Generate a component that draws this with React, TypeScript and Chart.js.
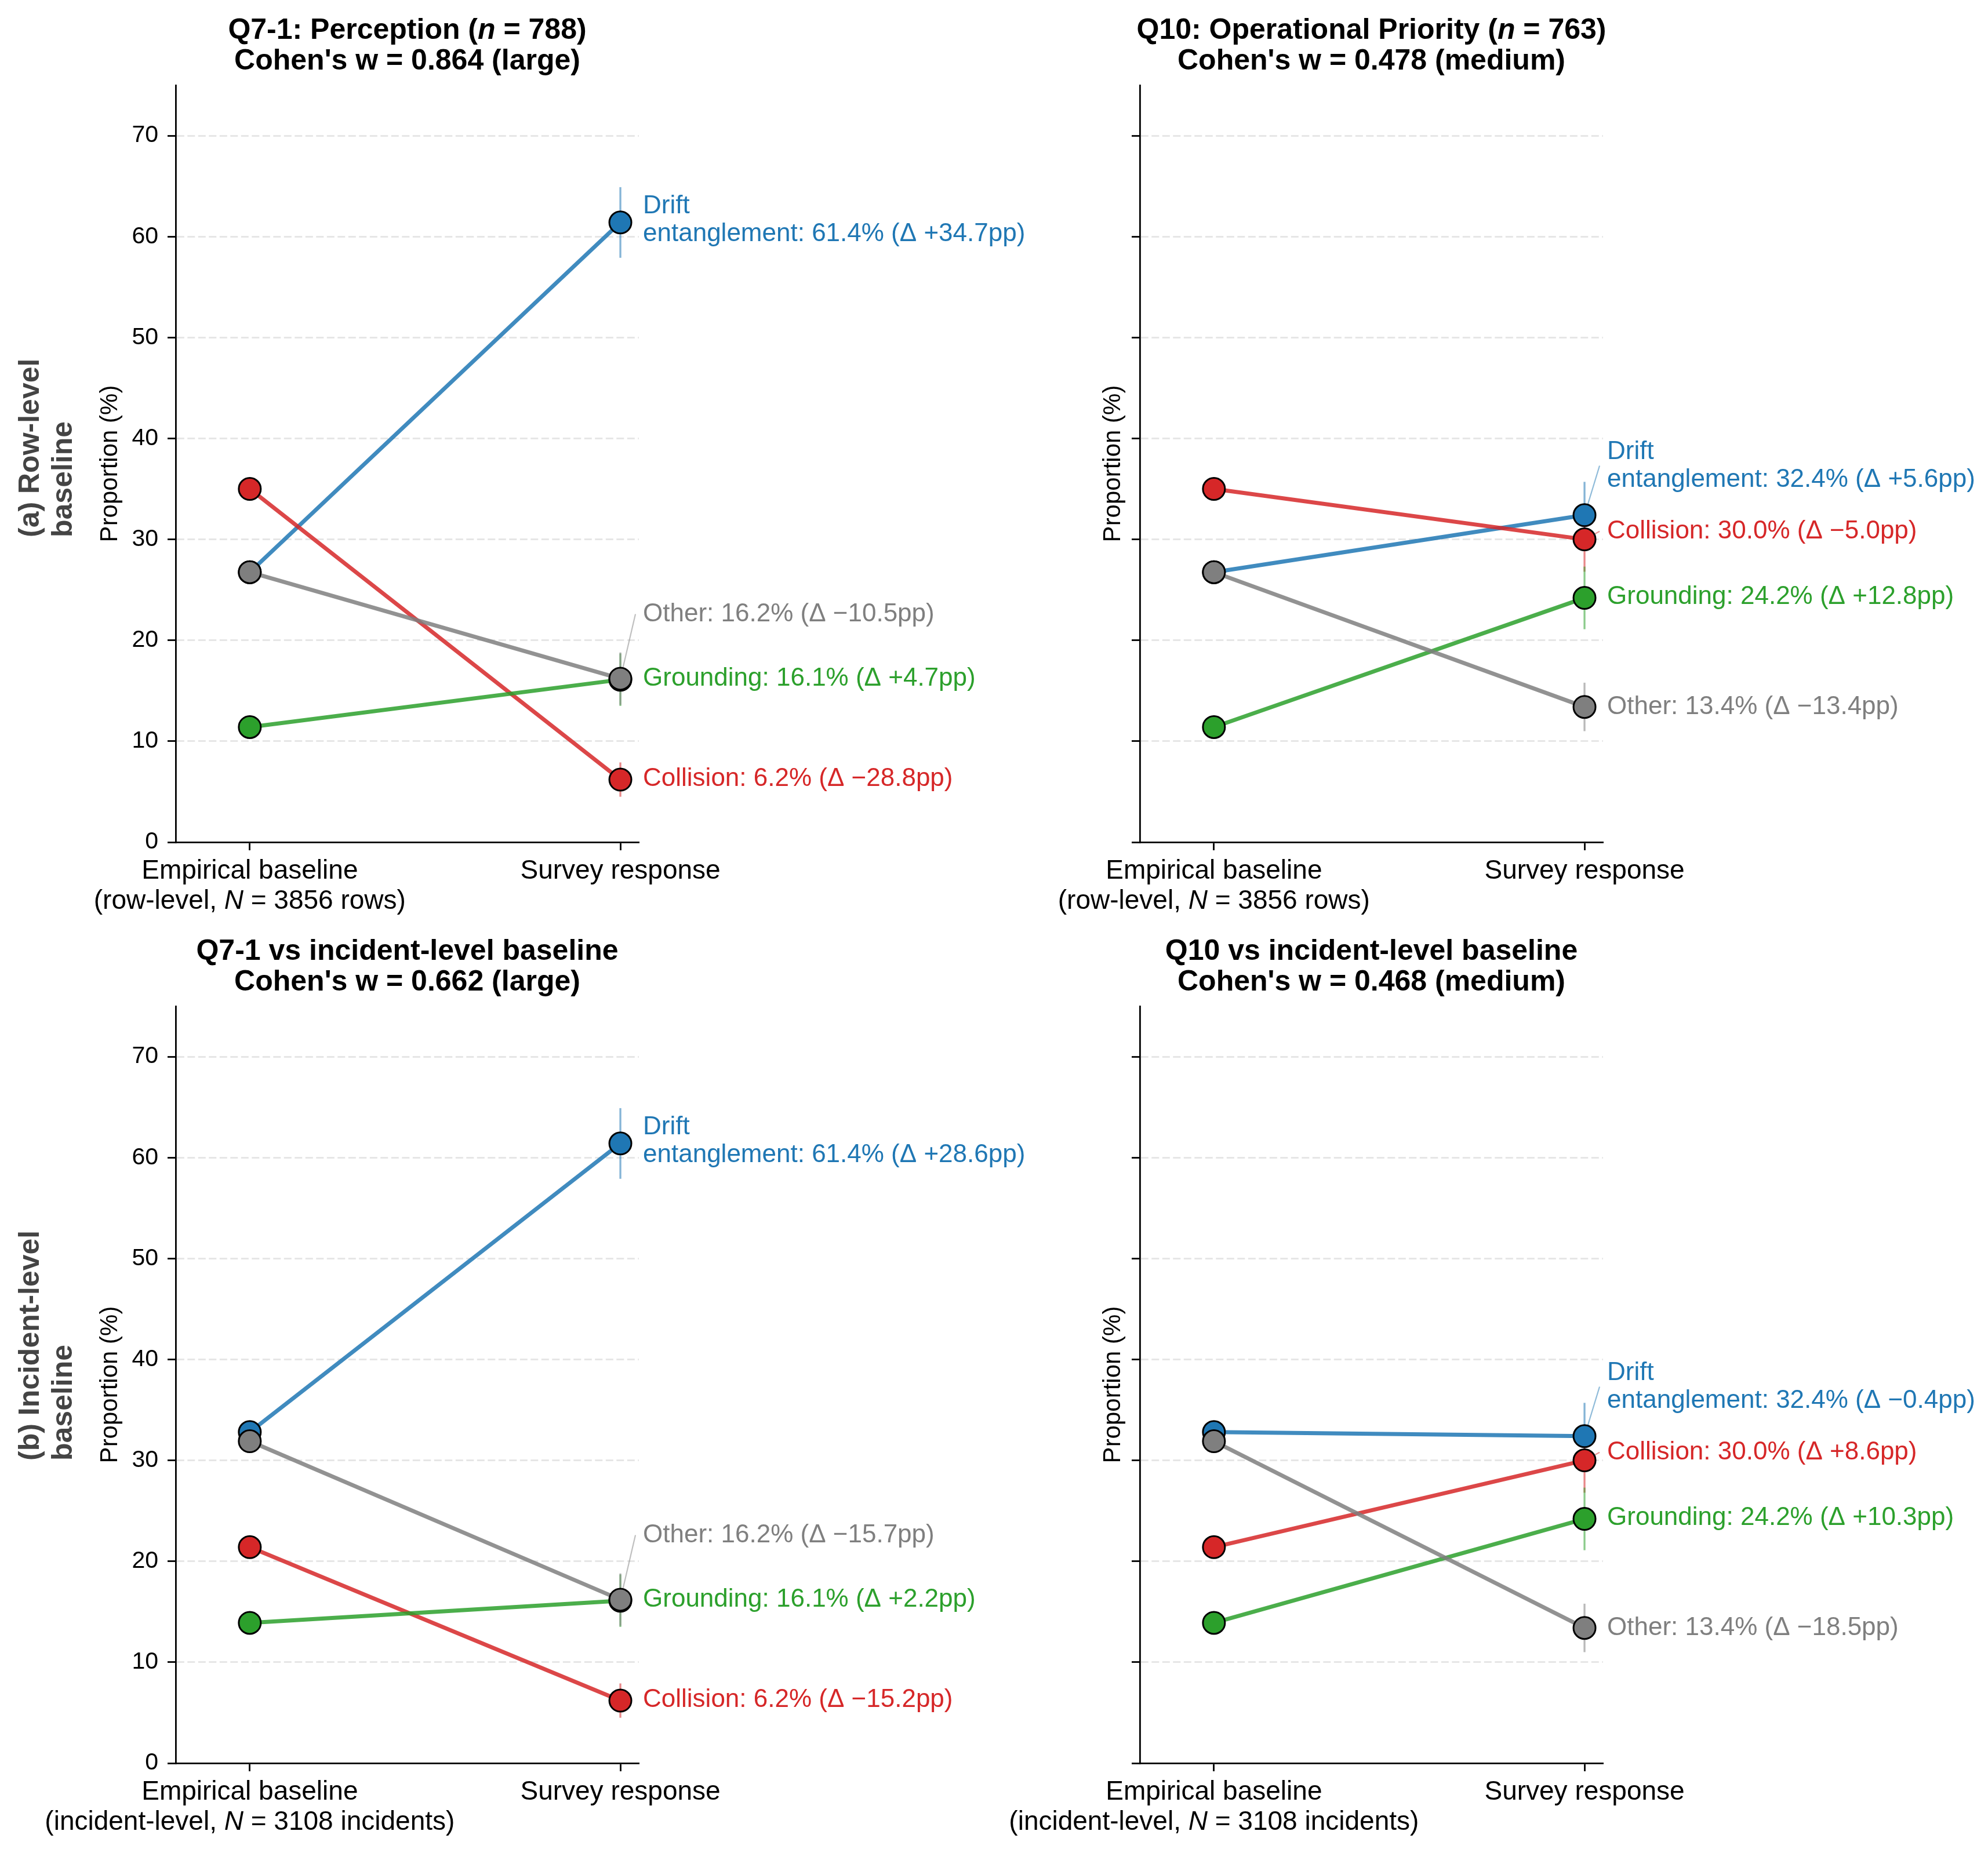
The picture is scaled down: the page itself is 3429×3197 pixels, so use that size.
import { useEffect, useRef } from "react";
import { Chart, registerables } from "chart.js";

Chart.register(...registerables);

const FONT = "'Liberation Sans', Arial, Helvetica, sans-serif";
const W = 3429;
const H = 3197;
const Y_AXIS_W = 150;

// categories (drawing order: first = bottom)
const categories = ["Drift\nentanglement", "Collision", "Grounding", "Other"];
const categoryColors = ["#1f77b4", "#d62728", "#2ca02c", "#7f7f7f"];
const categoryRgb = ["31,119,180", "214,39,40", "44,160,44", "127,127,127"];

// x positions of the two columns
const xTickValues = [0, 1];
const xTickNames = ["Empirical baseline", "Survey response"];

// proportions (%)
const rowBaseline = [26.75, 35.0, 11.4, 26.75];
const incidentBaseline = [32.8, 21.4, 13.9, 31.9];
const q7Survey = [61.4, 6.2, 16.1, 16.2];
const q10Survey = [32.4, 30.0, 24.2, 13.4];

// 95% CI half widths of the survey proportions
const q7Ci = [3.5, 1.7, 2.6, 2.6];
const q10Ci = [3.3, 3.2, 3.1, 2.4];

// differences survey - baseline (pp)
const q7RowDelta = [34.7, -28.8, 4.7, -10.5];
const q10RowDelta = [5.6, -5.0, 12.8, -13.4];
const q7IncidentDelta = [28.6, -15.2, 2.2, -15.7];
const q10IncidentDelta = [-0.4, 8.6, 10.3, -18.5];

const yMax = 75;
const yTickStep = 10;

// label placement (y in data units, after de-overlapping)
const q7LabelY = [61.6, 6.25, 16.2, 22.6];
const q10LabelY = [37.3, 30.8, 24.3, 13.4];

type Seg = [string, boolean];
interface Panel {
  title: Seg[][];
  survey: number[];
  baseline: number[];
  delta: number[];
  ci: number[];
  labelY: number[];
  baseSub: Seg[];
  box: { left: number; top: number; right: number; bottom: number };
  yTickLabels: boolean;
  ylabelX: number;
  rowLabel?: { lines: string[]; y: number };
}

const rowSub: Seg[] = [["(row-level, ", false], ["N", true], [" = 3856 rows)", false]];
const incSub: Seg[] = [["(incident-level, ", false], ["N", true], [" = 3108 incidents)", false]];

const panels: Panel[] = [
  {
    title: [
      [["Q7-1: Perception (", false], ["n", true], [" = 788)", false]],
      [["Cohen's w = 0.864 (large)", false]],
    ],
    survey: q7Survey, baseline: rowBaseline, delta: q7RowDelta, ci: q7Ci, labelY: q7LabelY,
    baseSub: rowSub,
    box: { left: 303, top: 147, right: 1102, bottom: 1453 },
    yTickLabels: true, ylabelX: 202,
    rowLabel: { lines: ["(a) Row-level", "baseline"], y: 927 },
  },
  {
    title: [
      [["Q10: Operational Priority (", false], ["n", true], [" = 763)", false]],
      [["Cohen's w = 0.478 (medium)", false]],
    ],
    survey: q10Survey, baseline: rowBaseline, delta: q10RowDelta, ci: q10Ci, labelY: q10LabelY,
    baseSub: rowSub,
    box: { left: 1966, top: 147, right: 2765, bottom: 1453 },
    yTickLabels: false, ylabelX: 1932,
  },
  {
    title: [
      [["Q7-1 vs incident-level baseline", false]],
      [["Cohen's w = 0.662 (large)", false]],
    ],
    survey: q7Survey, baseline: incidentBaseline, delta: q7IncidentDelta, ci: q7Ci, labelY: q7LabelY,
    baseSub: incSub,
    box: { left: 303, top: 1736, right: 1102, bottom: 3042 },
    yTickLabels: true, ylabelX: 202,
    rowLabel: { lines: ["(b) Incident-level", "baseline"], y: 2520 },
  },
  {
    title: [
      [["Q10 vs incident-level baseline", false]],
      [["Cohen's w = 0.468 (medium)", false]],
    ],
    survey: q10Survey, baseline: incidentBaseline, delta: q10IncidentDelta, ci: q10Ci, labelY: q10LabelY,
    baseSub: incSub,
    box: { left: 1966, top: 1736, right: 2765, bottom: 3042 },
    yTickLabels: false, ylabelX: 1932,
  },
];

function drawRich(
  ctx: CanvasRenderingContext2D, segs: Seg[], x: number, y: number,
  size: number, bold: boolean, color: string, align: "center" | "left"
) {
  const fonts = segs.map(([, it]) => `${it ? "italic " : ""}${bold ? "bold " : ""}${size}px ${FONT}`);
  const widths = segs.map(([t], i) => {
    ctx.font = fonts[i];
    return ctx.measureText(t).width;
  });
  const total = widths.reduce((a, b) => a + b, 0);
  let cx = align === "center" ? x - total / 2 : x;
  ctx.fillStyle = color;
  ctx.textAlign = "left";
  segs.forEach(([t], i) => {
    ctx.font = fonts[i];
    ctx.fillText(t, cx, y);
    cx += widths[i];
  });
}

function fmtDelta(d: number) {
  return `${d < 0 ? "\u2212" : "+"}${Math.abs(d).toFixed(1)}`;
}

function SlopePanel({ panel }: { panel: Panel }) {
  const chartRef = useRef<HTMLCanvasElement>(null);

  useEffect(() => {
    if (!chartRef.current) return;
    const ctx = chartRef.current.getContext("2d");
    if (!ctx) return;

    const decorations = {
      id: "decorations",
      beforeDatasetsDraw(chart: any) {
        const c = chart.ctx as CanvasRenderingContext2D;
        const xs = chart.scales.x;
        const ys = chart.scales.y;
        const px = xs.getPixelForValue(1);
        c.save();
        // error bars
        panel.survey.forEach((v, i) => {
          c.strokeStyle = `rgba(${categoryRgb[i]},0.55)`;
          c.lineWidth = 3.3;
          c.beginPath();
          c.moveTo(px, ys.getPixelForValue(v - panel.ci[i]));
          c.lineTo(px, ys.getPixelForValue(v + panel.ci[i]));
          c.stroke();
        });
        // leader lines
        panel.survey.forEach((v, i) => {
          if (Math.abs(panel.labelY[i] - v) < 0.5) return;
          c.strokeStyle = `rgba(${categoryRgb[i]},0.5)`;
          c.lineWidth = 2.2;
          c.beginPath();
          c.moveTo(px, ys.getPixelForValue(v));
          c.lineTo(px + 26, ys.getPixelForValue(panel.labelY[i]));
          c.stroke();
        });
        c.restore();
      },
      afterDraw(chart: any) {
        const c = chart.ctx as CanvasRenderingContext2D;
        const xs = chart.scales.x;
        const ys = chart.scales.y;
        const area = chart.chartArea;
        const cx = (area.left + area.right) / 2;
        c.save();
        c.textBaseline = "alphabetic";
        // title
        drawRich(c, panel.title[0], cx, area.top - 80, 50, true, "#000", "center");
        drawRich(c, panel.title[1], cx, area.top - 27, 50, true, "#000", "center");
        // x tick labels
        const x0 = xs.getPixelForValue(xTickValues[0]);
        const x1 = xs.getPixelForValue(xTickValues[1]);
        drawRich(c, [[xTickNames[0], false]], x0, area.bottom + 63, 46, false, "#000", "center");
        drawRich(c, panel.baseSub, x0, area.bottom + 115, 46, false, "#000", "center");
        drawRich(c, [[xTickNames[1], false]], x1, area.bottom + 63, 46, false, "#000", "center");
        // y label
        c.save();
        c.translate(panel.ylabelX, (area.top + area.bottom) / 2);
        c.rotate(-Math.PI / 2);
        c.font = `42px ${FONT}`;
        c.fillStyle = "#000";
        c.textAlign = "center";
        c.fillText("Proportion (%)", 0, 0);
        c.restore();
        // row label
        if (panel.rowLabel) {
          const rl = panel.rowLabel;
          [67, 124].forEach((bx, k) => {
            c.save();
            c.translate(bx, rl.y);
            c.rotate(-Math.PI / 2);
            c.font = `bold 50px ${FONT}`;
            c.fillStyle = "#444444";
            c.textAlign = "left";
            c.fillText(rl.lines[k], 0, 0);
            c.restore();
          });
        }
        // value labels
        const tx = x1 + 39;
        c.textBaseline = "middle";
        c.textAlign = "left";
        c.font = `44px ${FONT}`;
        panel.survey.forEach((v, i) => {
          const text = `${categories[i]}: ${v.toFixed(1)}% (\u0394 ${fmtDelta(panel.delta[i])}pp)`;
          const lines = text.split("\n");
          const yc = ys.getPixelForValue(panel.labelY[i]);
          c.fillStyle = categoryColors[i];
          lines.forEach((ln, k) => {
            c.fillText(ln, tx, yc + (k - (lines.length - 1) / 2) * 48);
          });
        });
        c.restore();
      },
    };

    const chart = new Chart(ctx, {
      type: "line",
      data: {
        datasets: categories.map((name, i) => ({
          label: name,
          data: [
            { x: xTickValues[0], y: panel.baseline[i] },
            { x: xTickValues[1], y: panel.survey[i] },
          ],
          order: categories.length - 1 - i,
          borderColor: `rgba(${categoryRgb[i]},0.85)`,
          borderWidth: 7,
          borderCapStyle: "round",
          pointRadius: 19,
          pointHoverRadius: 19,
          pointBackgroundColor: categoryColors[i],
          pointBorderColor: "#000",
          pointBorderWidth: 3,
          tension: 0,
          clip: false as any,
        })),
      },
      options: {
        responsive: false,
        animation: false,
        devicePixelRatio: 1,
        events: [],
        layout: {
          padding: {
            left: panel.box.left - Y_AXIS_W,
            top: panel.box.top,
            right: W - panel.box.right,
            bottom: H - panel.box.bottom,
          },
        },
        plugins: {
          legend: { display: false },
          tooltip: { enabled: false },
          title: { display: false },
        },
        scales: {
          x: {
            type: "linear",
            min: -0.2,
            max: 1.05,
            afterBuildTicks: (scale: any) => {
              scale.ticks = xTickValues.map((v) => ({ value: v }));
            },
            afterFit: (scale: any) => {
              scale.height = 0;
            },
            ticks: { display: false },
            grid: {
              display: true,
              drawOnChartArea: false,
              drawTicks: true,
              tickLength: 14,
              tickColor: "#000",
              tickWidth: 2.8,
              color: "rgba(0,0,0,0)",
            },
            border: { display: true, color: "#000", width: 2.8 },
          },
          y: {
            type: "linear",
            min: 0,
            max: yMax,
            afterFit: (scale: any) => {
              scale.width = Y_AXIS_W;
            },
            ticks: {
              display: panel.yTickLabels,
              stepSize: yTickStep,
              includeBounds: false,
              color: "#000",
              padding: 16,
              font: { family: FONT, size: 41 },
            },
            grid: {
              display: true,
              drawTicks: true,
              tickLength: 14,
              tickColor: "#000",
              tickWidth: 2.8,
              lineWidth: 3,
              color: (c: any) => (c.tick && c.tick.value === 0 ? "rgba(0,0,0,0)" : "#e6e6e6"),
            },
            border: { display: true, color: "#000", width: 2.8, dash: [13, 5.5] },
          },
        },
      },
      plugins: [decorations],
    } as any);

    return () => {
      chart.destroy();
    };
  }, [panel]);

  return (
    <canvas
      ref={chartRef}
      width={W}
      height={H}
      style={{ position: "absolute", left: 0, top: 0, width: W, height: H }}
    />
  );
}

export default function App() {
  return (
    <div
      style={{
        position: "absolute",
        left: 0,
        top: 0,
        width: W,
        height: H,
        background: "#fff",
        overflow: "hidden",
      }}
    >
      {panels.map((p, i) => (
        <SlopePanel key={i} panel={p} />
      ))}
    </div>
  );
}
